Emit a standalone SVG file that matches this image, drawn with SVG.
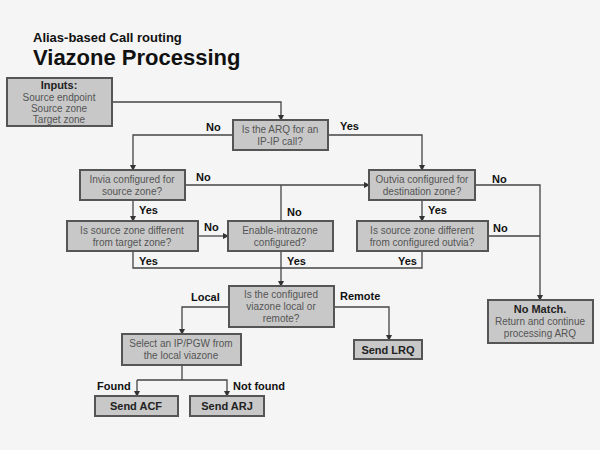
<svg xmlns="http://www.w3.org/2000/svg" width="600" height="450" viewBox="0 0 600 450">
<defs>
<marker id="a" markerWidth="6" markerHeight="6" refX="5" refY="3" orient="auto" markerUnits="userSpaceOnUse"><path d="M0,0 L6,3 L0,6 z" fill="#333"/></marker>
<style>
.b{fill:#c8c8c8;stroke:#555;stroke-width:2}
.t{font-family:"Liberation Sans",Arial,sans-serif;font-size:10px;fill:#555;text-anchor:middle}
.k{font-family:"Liberation Sans",Arial,sans-serif;font-size:11px;font-weight:bold;fill:#111}
.kb{font-family:"Liberation Sans",Arial,sans-serif;font-size:11px;font-weight:bold;fill:#222;text-anchor:middle}
.c{fill:none;stroke:#444;stroke-width:1.3}
.ar{marker-end:url(#a)}
</style>
</defs>
<rect width="600" height="450" fill="#f5f5f5"/>
<text x="33" y="42" font-family="Liberation Sans,Arial,sans-serif" font-size="13" font-weight="bold" fill="#111">Alias-based Call routing</text>
<text x="33" y="65" font-family="Liberation Sans,Arial,sans-serif" font-size="22" font-weight="bold" fill="#111">Viazone Processing</text>
<g id="connectors">
<path class="c ar" d="M112,102 H281 V120"/>
<path class="c ar" d="M233,135 H133 V170"/>
<path class="c ar" d="M328,135 H422 V170"/>
<path class="c ar" d="M185,185 H369"/>
<path class="c" d="M281,185 V221"/>
<path class="c ar" d="M133,200 V221"/>
<path class="c ar" d="M198,236 H228"/>
<path class="c" d="M133,251 V268 H422 V251"/>
<path class="c ar" d="M281,251 V286"/>
<path class="c ar" d="M422,200 V221"/>
<path class="c ar" d="M475,185 H540 V300"/>
<path class="c" d="M488,236 H540"/>
<path class="c ar" d="M229,307 H182 V334"/>
<path class="c ar" d="M334,307 H389 V340"/>
<path class="c" d="M182,365 V380"/>
<path class="c ar" d="M137,380 H227 V396"/>
<path class="c ar" d="M137,380 V396"/>
<text class="k" x="206" y="131">No</text>
<text class="k" x="340" y="130">Yes</text>
<text class="k" x="196" y="181">No</text>
<text class="k" x="139" y="214">Yes</text>
<text class="k" x="287" y="216">No</text>
<text class="k" x="204" y="231">No</text>
<text class="k" x="139" y="265">Yes</text>
<text class="k" x="287" y="265">Yes</text>
<text class="k" x="398" y="265">Yes</text>
<text class="k" x="428" y="214">Yes</text>
<text class="k" x="492" y="183">No</text>
<text class="k" x="493" y="232">No</text>
<text class="k" x="191" y="301">Local</text>
<text class="k" x="340" y="300">Remote</text>
<text class="k" x="97" y="390">Found</text>
<text class="k" x="233" y="390">Not found</text>
</g>
<g id="inputs"><rect class="b" x="7" y="78" width="105" height="48"/>
<text class="kb" x="59" y="89" font-size="10">Inputs:</text>
<text class="t" x="59" y="101">Source endpoint</text><text class="t" x="59" y="112">Source zone</text><text class="t" x="59" y="123">Target zone</text></g>
<g id="arq"><rect class="b" x="233" y="120" width="95" height="30"/><text class="t" x="280" y="133">Is the ARQ for an</text><text class="t" x="280" y="145">IP-IP call?</text></g>
<g id="invia"><rect class="b" x="80" y="170" width="105" height="30"/><text class="t" x="132" y="183">Invia configured for</text><text class="t" x="132" y="195">source zone?</text></g>
<g id="outvia"><rect class="b" x="369" y="170" width="106" height="30"/><text class="t" x="422" y="183">Outvia configured for</text><text class="t" x="422" y="195">destination zone?</text></g>
<g id="diff1"><rect class="b" x="67" y="221" width="131" height="30"/><text class="t" x="132" y="234">Is source zone different</text><text class="t" x="132" y="246">from target zone?</text></g>
<g id="intrazone"><rect class="b" x="228" y="221" width="105" height="30"/><text class="t" x="280" y="234">Enable-intrazone</text><text class="t" x="280" y="246">configured?</text></g>
<g id="diff2"><rect class="b" x="357" y="221" width="131" height="30"/><text class="t" x="422" y="234">Is source zone different</text><text class="t" x="422" y="246">from configured outvia?</text></g>
<g id="nomatch"><rect class="b" x="488" y="300" width="105" height="43"/><text class="kb" x="540" y="313" font-size="10">No Match.</text><text class="t" x="540" y="325">Return and continue</text><text class="t" x="540" y="337">processing ARQ</text></g>
<g id="viazone"><rect class="b" x="229" y="286" width="105" height="41"/><text class="t" x="281" y="298">Is the configured</text><text class="t" x="281" y="310">viazone local or</text><text class="t" x="281" y="322">remote?</text></g>
<g id="lrq"><rect class="b" x="354" y="340" width="68" height="19"/><text class="kb" x="388" y="354">Send LRQ</text></g>
<g id="select"><rect class="b" x="122" y="334" width="119" height="31"/><text class="t" x="181" y="347">Select an IP/PGW from</text><text class="t" x="181" y="359">the local viazone</text></g>
<g id="acf"><rect class="b" x="95" y="396" width="83" height="20"/><text class="kb" x="136" y="410">Send ACF</text></g>
<g id="arj"><rect class="b" x="190" y="396" width="74" height="20"/><text class="kb" x="227" y="410">Send ARJ</text></g>
</svg>
